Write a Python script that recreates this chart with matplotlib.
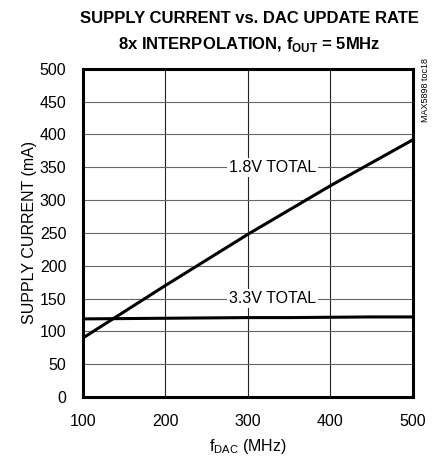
import matplotlib
matplotlib.use("Agg")
import matplotlib.pyplot as plt
import numpy as np

plt.rcParams['font.family'] = ['Liberation Sans Narrow', 'Liberation Sans', 'DejaVu Sans']

f_dac = [100, 150, 200, 250, 300, 350, 400, 450, 500]
i_18v = [90, 130, 170, 209, 248, 285, 322, 357, 392]
i_33v = [119, 119.5, 120, 120.5, 121, 121, 121.5, 122, 122]

fig = plt.figure(figsize=(4.33, 4.57), dpi=100)
ax = fig.add_axes([0.1917, 0.1313, 0.762, 0.718])

ax.plot(f_dac, i_18v, color='black', lw=2.2, solid_capstyle='butt')
ax.plot(f_dac, i_33v, color='black', lw=2.2, solid_capstyle='butt')

ax.set_xlim(100, 500)
ax.set_ylim(0, 500)
ax.set_xticks([100, 200, 300, 400, 500])
ax.set_yticks(np.arange(0, 501, 50))
ax.tick_params(length=0, labelsize=11.5)
ax.tick_params(axis='x', pad=12)
ax.tick_params(axis='y', pad=12)
ax.grid(True, axis='y', color='#666666', lw=0.8)
ax.grid(True, axis='x', color='#222222', lw=0.8)
ax.set_axisbelow(True)
for s in ax.spines.values():
    s.set_linewidth(2.2)

bbox = dict(facecolor='white', edgecolor='none', pad=1.5)
ax.text(330, 350, '1.8V TOTAL', ha='center', va='center', fontsize=11.5, bbox=bbox)
ax.text(330, 150, '3.3V TOTAL', ha='center', va='center', fontsize=11.5, bbox=bbox)

ax.set_xlabel(r'f$_{\mathregular{DAC}}$ (MHz)', fontsize=11.5, labelpad=6)
ax.set_ylabel('SUPPLY CURRENT (mA)', fontsize=11.5, labelpad=2)

fig.text(0.575, 0.96, 'SUPPLY CURRENT vs. DAC UPDATE RATE', ha='center', va='center',
         fontsize=12, fontweight='bold')
fig.text(0.575, 0.902, r'8x INTERPOLATION, f$_{\mathregular{OUT}}$ = 5MHz', ha='center', va='center',
         fontsize=12, fontweight='bold')
fig.text(0.982, 0.873, 'MAX5898 toc18', rotation=90, ha='center', va='top', fontsize=6.5)

fig.savefig('out.png', dpi=100)
